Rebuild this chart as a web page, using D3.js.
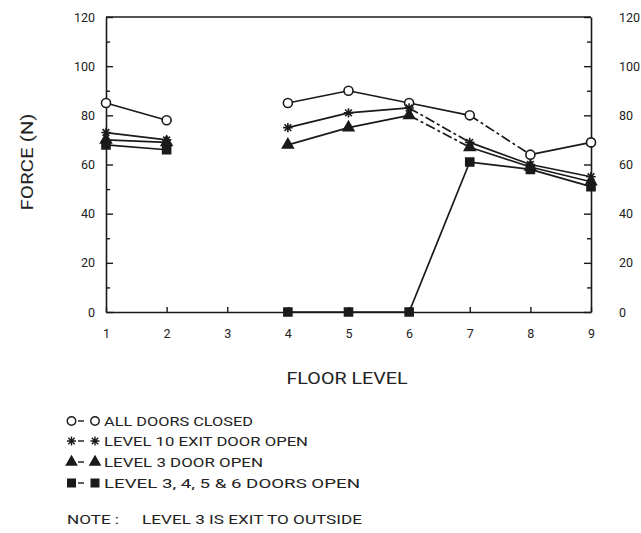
<!DOCTYPE html>
<html><head><meta charset="utf-8">
<script src="https://cdn.jsdelivr.net/npm/d3@7"></script>
<style>
html,body{margin:0;padding:0;background:#fff;}
svg{display:block;}
text{font-family:Roboto,"DejaVu Sans",sans-serif;fill:#222;}
</style></head>
<body>
<svg id="c" width="641" height="533"></svg>
<script>
// ---- data ----
const floors = [1,2,3,4,5,6,7,8,9];
const yTicks = [0,20,40,60,80,100,120];
const yMinorTicks = [10,30,50,70,90,110];
const allDoorsClosed = [85,78,null,85,90,85,80,64,69];
const level10ExitOpen = [73,70,null,75,81,83,69,60,55];
const level3DoorOpen = [70,69,null,68,75,80,67,59,53];
const levels3456Open = [68,66,null,0,0,0,61,58,51];
const seriesNames = ["ALL DOORS CLOSED","LEVEL 10 EXIT DOOR OPEN","LEVEL 3 DOOR OPEN","LEVEL 3, 4, 5 & 6 DOORS OPEN"];
const xTitle = "FLOOR LEVEL";
const yTitle = "FORCE (N)";
const noteText = ["NOTE :","LEVEL 3 IS EXIT TO OUTSIDE"];

// ---- layout ----
const svg = d3.select("#c");
const L=106, R=591, T=17, B=312;
const x = d3.scaleLinear().domain([1,9]).range([L,R]);
const y = d3.scaleLinear().domain([0,120]).range([B,T]);
const ink = "#1a1a1a";

// 8-armed asterisk symbol
const symbolStar8 = {
  draw(ctx, size){
    const r = Math.sqrt(size)/2;
    const d = r*Math.SQRT1_2;
    ctx.moveTo(0,-r); ctx.lineTo(0,r);
    ctx.moveTo(-r,0); ctx.lineTo(r,0);
    ctx.moveTo(-d,-d); ctx.lineTo(d,d);
    ctx.moveTo(-d,d); ctx.lineTo(d,-d);
  }
};

const series = [
  {vals:allDoorsClosed, sym:d3.symbolCircle, size:64, fill:"#fff", dashedFrom:[7]},
  {vals:level10ExitOpen, sym:symbolStar8, size:90, fill:"none", dashedFrom:[6]},
  {vals:level3DoorOpen, sym:d3.symbolTriangle, size:50, fill:ink, dashedFrom:[6]},
  {vals:levels3456Open, sym:d3.symbolSquare, size:64, fill:ink, dashedFrom:[]}
];

// axes
function styleAxis(g){
  g.selectAll("path.domain").attr("stroke",ink).attr("stroke-width",1.6);
  g.selectAll(".tick line").attr("stroke",ink).attr("stroke-width",1.4);
  g.selectAll(".tick text").attr("font-size",12.5).attr("fill","#222").attr("font-family","Roboto, DejaVu Sans, sans-serif");
}
const gl = svg.append("g").attr("transform",`translate(${L},0)`)
  .call(d3.axisLeft(y).tickValues(yTicks).tickSizeInner(-7).tickSizeOuter(0).tickPadding(11));
styleAxis(gl);
const glm = svg.append("g").attr("transform",`translate(${L},0)`)
  .call(d3.axisLeft(y).tickValues(yMinorTicks).tickFormat("").tickSizeInner(-4).tickSizeOuter(0));
glm.select("path.domain").remove(); styleAxis(glm);

const gr = svg.append("g").attr("transform",`translate(${R},0)`)
  .call(d3.axisRight(y).tickValues(yTicks).tickSizeInner(-7).tickSizeOuter(0).tickPadding(28));
styleAxis(gr);
const grm = svg.append("g").attr("transform",`translate(${R},0)`)
  .call(d3.axisRight(y).tickValues(yMinorTicks).tickFormat("").tickSizeInner(-4).tickSizeOuter(0));
grm.select("path.domain").remove(); styleAxis(grm);

const gb = svg.append("g").attr("transform",`translate(0,${B})`)
  .call(d3.axisBottom(x).tickValues(floors).tickFormat(d3.format("d")).tickSizeInner(-5).tickSizeOuter(0).tickPadding(17));
styleAxis(gb);

svg.append("line").attr("x1",L).attr("x2",R).attr("y1",T).attr("y2",T)
  .attr("stroke",ink).attr("stroke-width",1.6);

// lines (segment by segment, gaps where data missing)
series.forEach(s=>{
  for(let i=0;i<floors.length-1;i++){
    const a=s.vals[i], b=s.vals[i+1];
    if(a==null||b==null) continue;
    svg.append("line")
      .attr("x1",x(floors[i])).attr("y1",y(a))
      .attr("x2",x(floors[i+1])).attr("y2",y(b))
      .attr("stroke",ink).attr("stroke-width",1.7)
      .attr("stroke-dasharray", s.dashedFrom.includes(floors[i]) ? "10,3,3,3" : null);
  }
});

// markers
series.forEach(s=>{
  svg.append("g").selectAll("path")
    .data(floors.map((f,i)=>({f,v:s.vals[i]})).filter(d=>d.v!=null))
    .join("path")
    .attr("transform",d=>`translate(${x(d.f)},${y(d.v)})`)
    .attr("d",d3.symbol(s.sym,s.size))
    .attr("fill",s.fill).attr("stroke",ink).attr("stroke-width",1.6);
});

// axis titles
svg.append("text").attr("x",347).attr("y",384).attr("text-anchor","middle")
  .attr("font-size",16.5).attr("textLength",121).attr("lengthAdjust","spacingAndGlyphs").text(xTitle);
svg.append("text").attr("transform","translate(33,162) rotate(-90)").attr("text-anchor","middle")
  .attr("font-size",16).attr("textLength",97).attr("lengthAdjust","spacingAndGlyphs").text(yTitle);

// legend
const legY = [421,441,462,483];
const legEnd = [253,308,263,360];
series.forEach((s,i)=>{
  const g = svg.append("g");
  g.append("path").attr("transform",`translate(71.5,${legY[i]})`)
    .attr("d",d3.symbol(s.sym,s.size*0.9)).attr("fill",s.fill).attr("stroke",ink).attr("stroke-width",1.4);
  g.append("line").attr("x1",78).attr("x2",84).attr("y1",legY[i]).attr("y2",legY[i]).attr("stroke",ink).attr("stroke-width",1.4);
  g.append("path").attr("transform",`translate(95,${legY[i]})`)
    .attr("d",d3.symbol(s.sym,s.size*0.9)).attr("fill",s.fill).attr("stroke",ink).attr("stroke-width",1.4);
  g.append("text").attr("x",104).attr("y",legY[i]+5).attr("font-size",13.5)
    .attr("textLength",legEnd[i]-104).attr("lengthAdjust","spacingAndGlyphs").text(seriesNames[i]);
});
svg.append("text").attr("x",67).attr("y",524).attr("font-size",13.5)
  .attr("textLength",52).attr("lengthAdjust","spacingAndGlyphs").text(noteText[0]);
svg.append("text").attr("x",142).attr("y",524).attr("font-size",13.5)
  .attr("textLength",220).attr("lengthAdjust","spacingAndGlyphs").text(noteText[1]);
</script>
</body></html>
